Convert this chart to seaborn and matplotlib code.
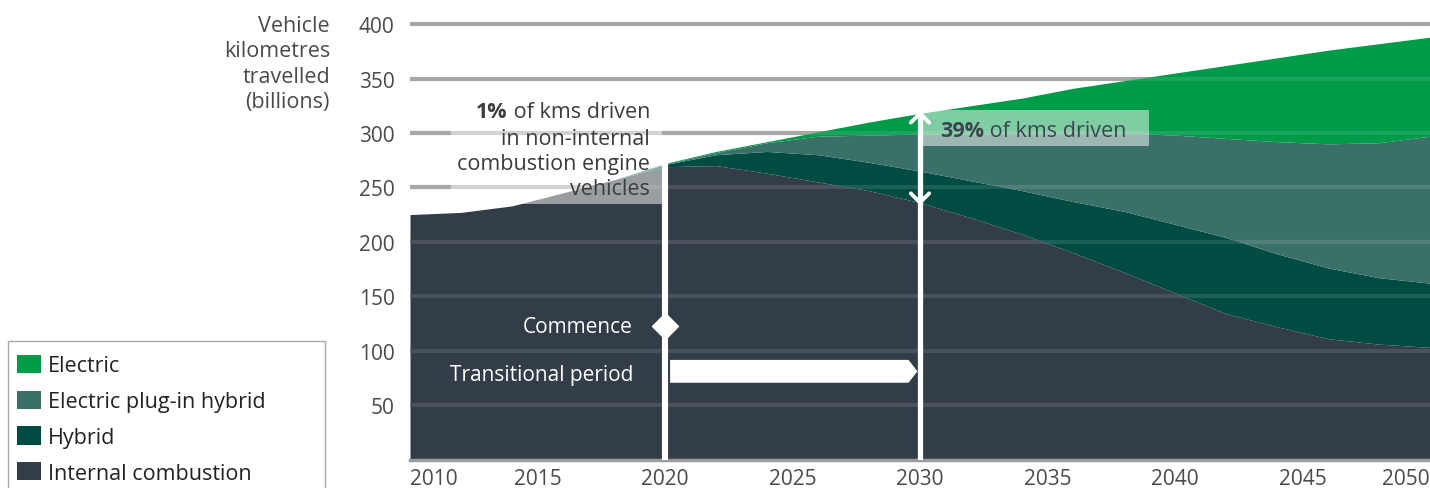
import matplotlib
matplotlib.use("Agg")
import numpy as np
import pandas as pd
import matplotlib.pyplot as plt
import seaborn as sns
from matplotlib.patches import Rectangle, Polygon, Patch

# Vehicle kilometres travelled (billions) by powertrain
years = [2010, 2012, 2014, 2016, 2018, 2020, 2022, 2024, 2026, 2028, 2030,
         2032, 2034, 2036, 2038, 2040, 2042, 2044, 2046, 2048, 2050]
internal_combustion = [225, 227, 233, 245, 257, 269, 270, 263, 255, 247, 236,
                       222, 207, 190, 172, 153, 134, 122, 111, 106, 103]
hybrid = [0, 0, 0, 0, 0, 2, 10, 20, 25, 26, 29,
          34, 40, 47, 56, 63, 70, 67, 65, 61, 59]
plug_in_hybrid = [0, 0, 0, 0, 0, 0.5, 2, 8, 17, 25, 34,
                  43, 53, 63, 72, 82, 91, 103, 114, 124, 135]
electric = [0, 0, 0, 0, 0, 0.5, 1, 1, 4, 12, 19,
            26, 32, 41, 48, 57, 67, 77, 86, 91, 91]

series_names = ["Internal combustion", "Hybrid", "Electric plug-in hybrid", "Electric"]
series_colors = ["#333d48", "#004c42", "#3a7068", "#009b48"]
y_ticks = [50, 100, 150, 200, 250, 300, 350, 400]
x_ticks = [2010, 2015, 2020, 2025, 2030, 2035, 2040, 2045, 2050]

commence_year = 2020
target_year = 2030

df = pd.DataFrame({
    "year": years,
    "Internal combustion": internal_combustion,
    "Hybrid": hybrid,
    "Electric plug-in hybrid": plug_in_hybrid,
    "Electric": electric,
})
df["total"] = df[series_names].sum(axis=1)

sns.set_theme(style="white")
plt.rcParams["font.family"] = ["Open Sans", "DejaVu Sans"]

W, H = 1430, 489
fig = plt.figure(figsize=(W / 100, H / 100), dpi=100)
ax = fig.add_axes([410 / W, 28.5 / H, 1020 / W, 446.3 / H])

ax.set_xlim(2010, 2050)
ax.set_ylim(0, 410)

# grey gridlines behind the areas
for t in y_ticks:
    ax.axhline(t, color="#9c9c9c", lw=3, zorder=0.5)

ax.stackplot(df["year"], *[df[n] for n in series_names],
             colors=series_colors, linewidth=0, zorder=1)

# faint gridlines showing through the areas
for t in y_ticks:
    ax.axhline(t, color="white", lw=3, alpha=0.11, zorder=2)

# axes styling
sns.despine(ax=ax, left=True, top=True, right=True)
ax.spines["bottom"].set_color("#9c9c9c")
ax.spines["bottom"].set_linewidth(2.5)
ax.spines["bottom"].set_zorder(3)
ax.set_yticks(y_ticks)
ax.set_yticklabels([str(t) for t in y_ticks])
ax.set_xticks(x_ticks)
ax.set_xticklabels([str(t) for t in x_ticks])
ax.tick_params(axis="y", length=0, pad=11, labelsize=15, labelcolor="#4a4a4a")
ax.tick_params(axis="x", length=0, pad=6, labelsize=15, labelcolor="#4a4a4a")
xl = ax.get_xticklabels()
xl[0].set_horizontalalignment("left")
xl[-1].set_horizontalalignment("right")
ax.grid(False)

fig.text(330 / W, 1 - 16 / H, "Vehicle\nkilometres\ntravelled\n(billions)",
         ha="right", va="top", fontsize=15.5, color="#4a4a4a", linespacing=1.27)

total_commence = float(df.loc[df["year"] == commence_year, "total"].iloc[0])
total_target = float(df.loc[df["year"] == target_year, "total"].iloc[0])
ice_target = float(df.loc[df["year"] == target_year, "Internal combustion"].iloc[0])

# translucent panels behind the annotations
ax.add_patch(Rectangle((2011.6, 235), commence_year - 0.1 - 2011.6, 101,
                       facecolor="white", alpha=0.5, lw=0, zorder=4))
ax.add_patch(Rectangle((target_year + 0.1, 288), 8.9, 33,
                       facecolor="white", alpha=0.5, lw=0, zorder=4))

# 2020 marker line and diamond
ax.plot([commence_year, commence_year], [0, total_commence], color="white",
        lw=4.4, solid_capstyle="butt", zorder=6)
ax.plot([commence_year], [122.6], marker="D", ms=13, color="white",
        mec="white", zorder=7)

# 2030 double-headed arrow
ax.plot([target_year, target_year], [0, total_target], color="white",
        lw=3.8, solid_capstyle="butt", zorder=6)
dx, dy = 0.36, 8.5
ax.plot([target_year - dx, target_year, target_year + dx],
        [total_target - dy, total_target, total_target - dy],
        color="white", lw=2.8, solid_joinstyle="miter", zorder=6)
ax.plot([target_year - dx, target_year, target_year + dx],
        [ice_target + dy, ice_target, ice_target + dy],
        color="white", lw=2.8, solid_joinstyle="miter", zorder=6)

# transitional period arrow
yc, hh = 81.0, 10.5
x0, x1 = commence_year + 0.2, target_year - 0.1
tip = 0.35
ax.add_patch(Polygon([(x0, yc - hh), (x1 - tip, yc - hh), (x1, yc),
                      (x1 - tip, yc + hh), (x0, yc + hh)],
                     closed=True, facecolor="white", edgecolor="none", zorder=6))

ax.text(2018.75, 122.6, "Commence", ha="right", va="center",
        fontsize=15, color="white", zorder=8)
ax.text(2018.75, 78.5, "Transitional period", ha="right", va="center",
        fontsize=15, color="white", zorder=8)

# 2020 share note
note_x = 2019.41
txt_color = "#3c3c3c"
t1 = ax.text(note_x, 320, " of kms driven", ha="right", va="center",
             fontsize=15.5, color=txt_color, zorder=8)
ax.annotate("1%", xy=(0, 0), xycoords=t1, ha="right", va="bottom",
            fontsize=15.5, fontweight="bold", color=txt_color, zorder=8)
for yv, line in [(295, "in non-internal"), (272, "combustion engine"), (249, "vehicles")]:
    ax.text(note_x, yv, line, ha="right", va="center", fontsize=15.5,
            color=txt_color, zorder=8)

# 2030 share note
t2 = ax.text(2030.78, 302.6, "39%", ha="left", va="center", fontsize=15.5,
             fontweight="bold", color="#3d4550", zorder=8)
ax.annotate(" of kms driven", xy=(1, 0), xycoords=t2, ha="left", va="bottom",
            fontsize=15.5, color="#3d4550", zorder=8)

# legend: entries without a frame, boxed by a separate rectangle
legend_order = ["Electric", "Electric plug-in hybrid", "Hybrid", "Internal combustion"]
color_map = dict(zip(series_names, series_colors))
handles = [Patch(facecolor=color_map[n], edgecolor="none", label=n) for n in legend_order]
leg = fig.legend(handles=handles, loc="upper left",
                 bbox_to_anchor=(17 / W, 1 - 356 / H),
                 frameon=False, borderaxespad=0, borderpad=0,
                 fontsize=15.5, handlelength=1.12, handleheight=0.92,
                 handletextpad=0.3, labelspacing=0.66)
for t in leg.get_texts():
    t.set_color("#222222")
fig.add_artist(Rectangle((8 / W, -0.02), 317 / W, 1 - 342 / H + 0.02,
                         transform=fig.transFigure, facecolor="none",
                         edgecolor="#a8a8a8", lw=1.0))

fig.savefig("out.png", dpi=100)
